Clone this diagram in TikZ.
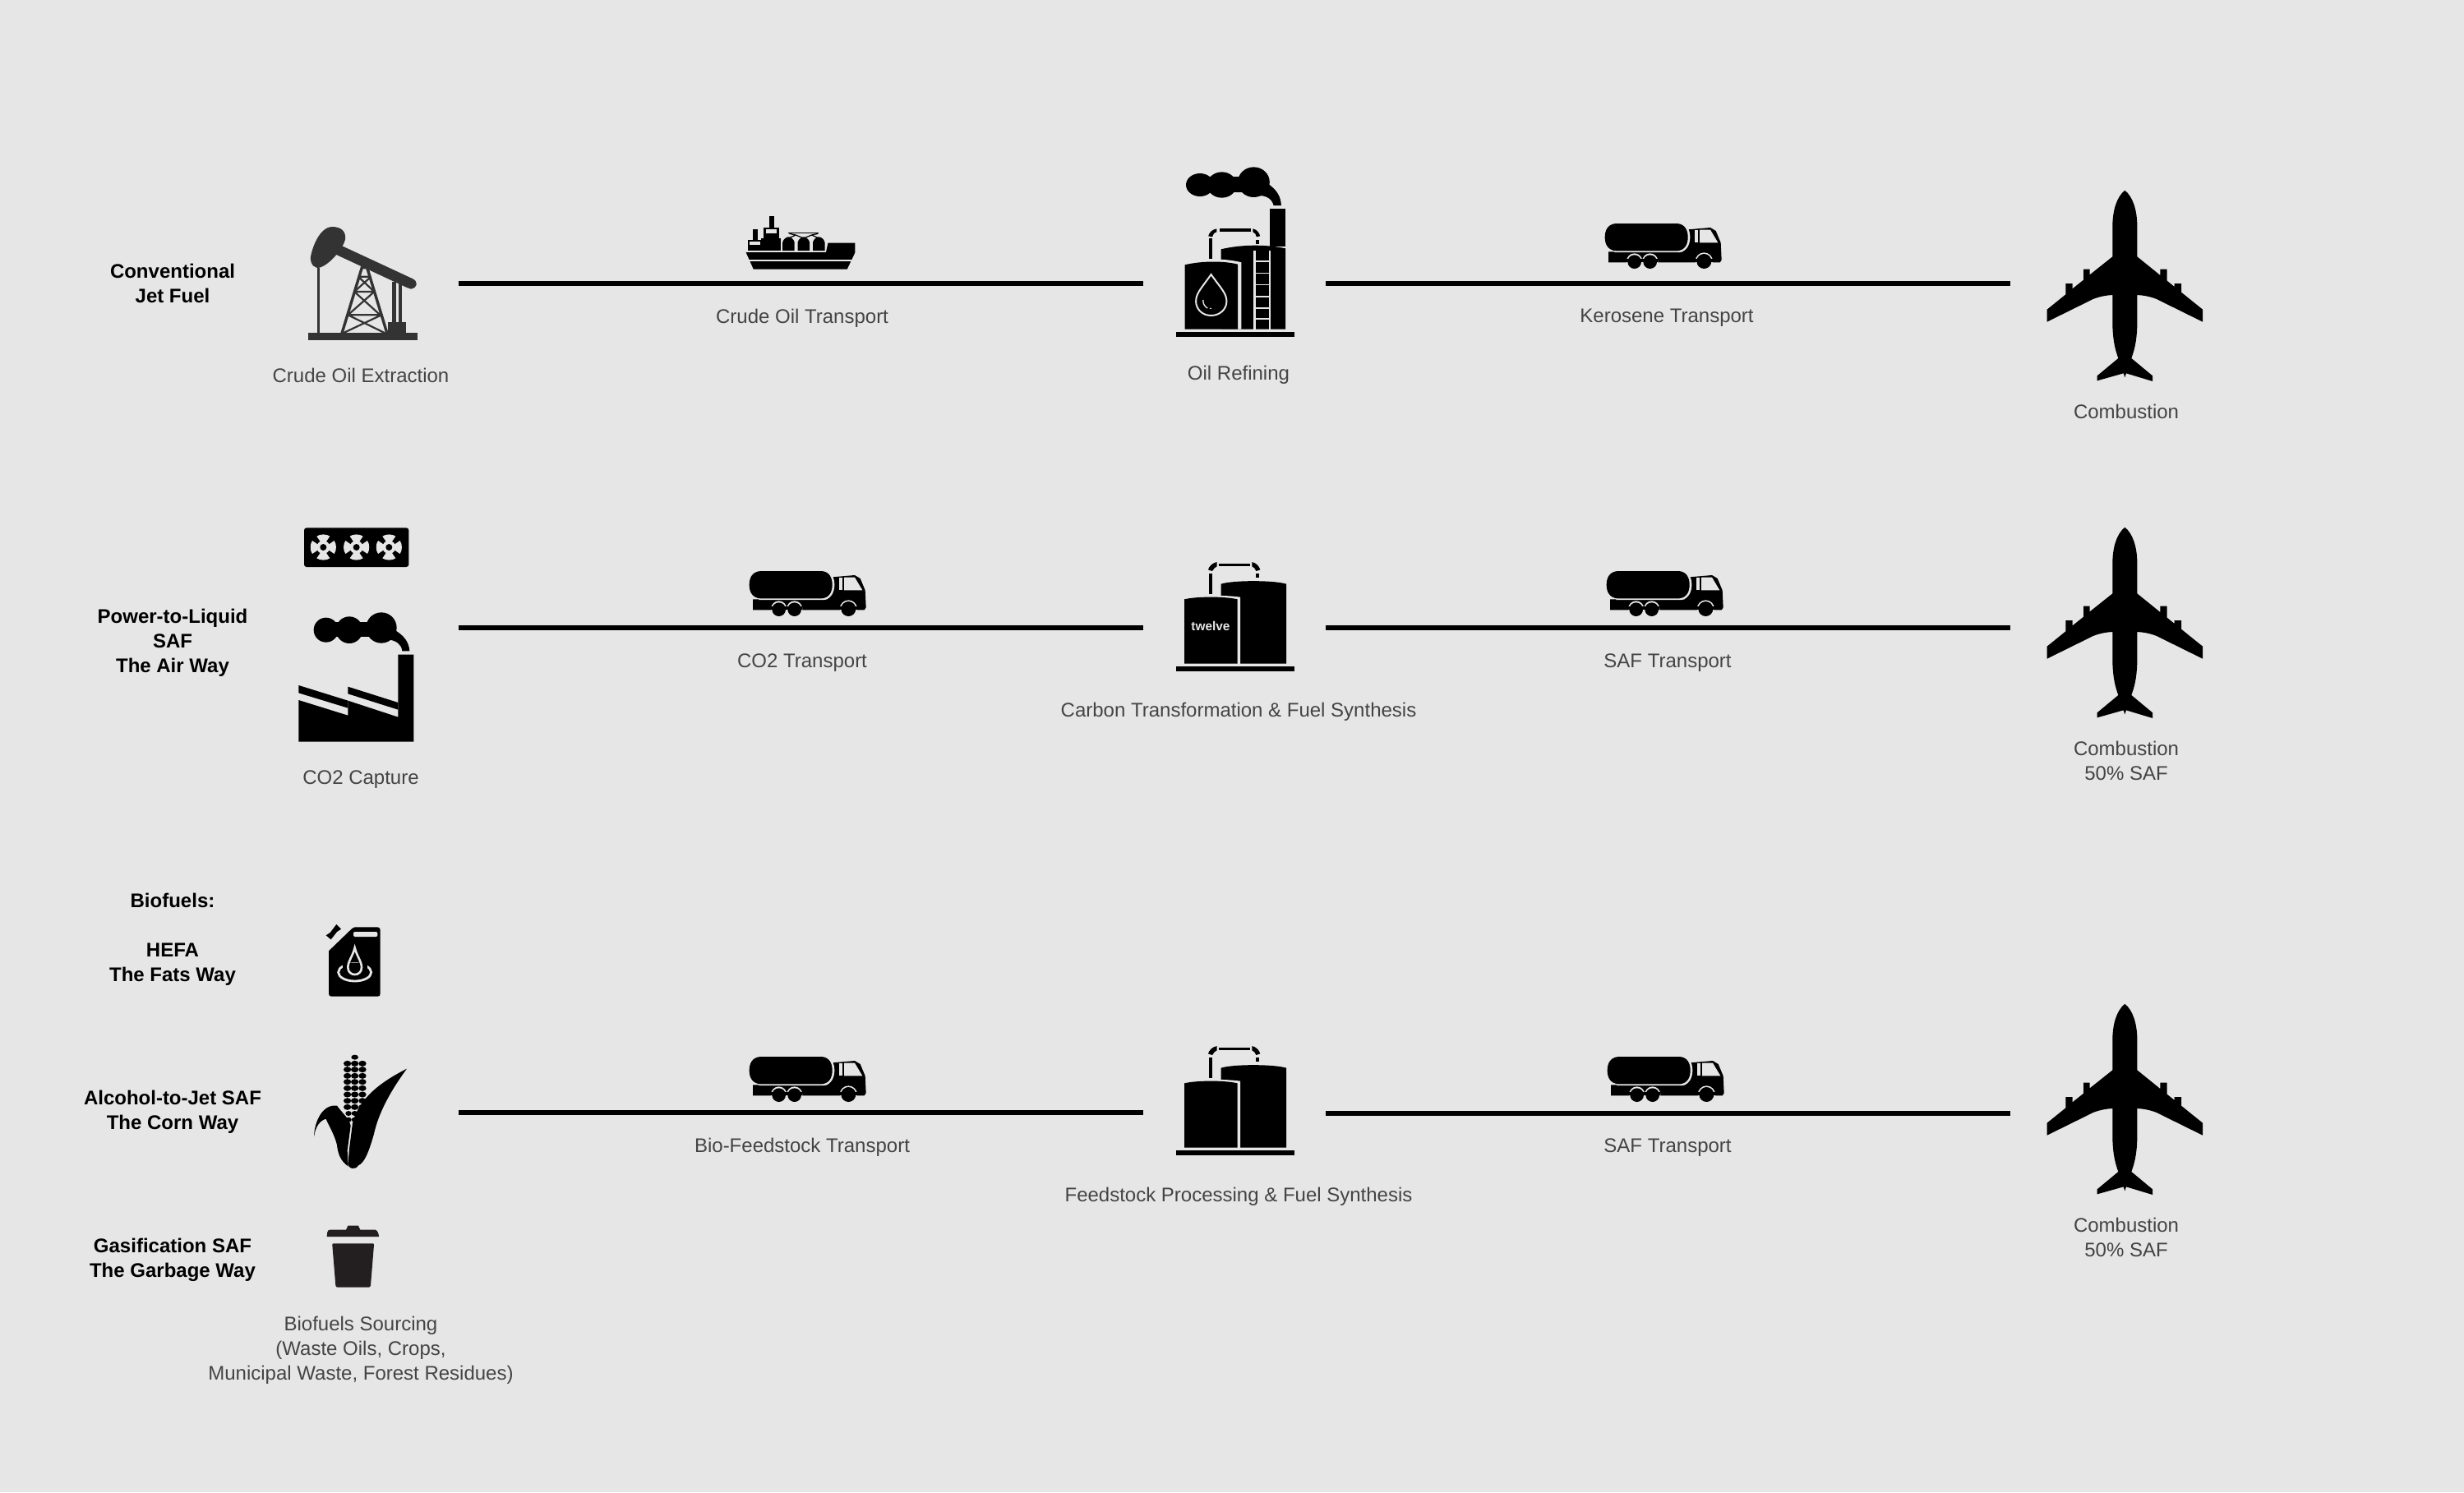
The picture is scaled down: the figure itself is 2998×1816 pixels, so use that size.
\documentclass[tikz,border=0pt]{standalone}
\usepackage{fontspec}
\setmainfont{Liberation Sans}
\definecolor{bgc}{HTML}{E6E6E6}
\definecolor{ink}{HTML}{000000}
\definecolor{jack}{HTML}{333333}
\definecolor{lab}{HTML}{444444}
\definecolor{binc}{HTML}{231F20}
\tikzset{
 lbl/.style={font=\fontsize{12}{14.9}\selectfont,text=lab,align=center,inner sep=0pt},
 head/.style={font=\fontsize{12}{14.9}\selectfont\bfseries,text=black,align=center,inner sep=0pt},
 flow/.style={draw=black,line width=3pt},
 truckicon/.pic={\begin{scope}[scale=1/3]
  \fill[ink] (48,178)--(320,178)--(338,150)--(338,97)--(420,90)--(440,102)--(458,145)--(461,208)--(455,217)--(48,217)--cycle;
  \fill[bgc] (397,213) circle[radius=32];
  \fill[bgc] (143,213) circle[radius=29];
  \fill[bgc] (200,213) circle[radius=29];
  \fill[ink] (397,213) circle[radius=27];
  \fill[ink] (143,215) circle[radius=25];
  \fill[ink] (200,215) circle[radius=25];
  \fill[ink] (115,217) rectangle (228,205);
  \fill[ink] (345,217) rectangle (372,205);
  \fill[ink] (423,217) rectangle (455,205);
  \fill[bgc] (362,98)rectangle(375,145);
  \fill[bgc] (381,98)--(420,98)--(448,145)--(381,145)--cycle;
  \fill[bgc] (70,180)--(310,180) .. controls (335,175) and (346,150) .. (346,125) .. controls (346,100) and (335,72) .. (305,70) -- (70,70)--cycle;
  \fill[ink] (75,75) -- (300,75) .. controls (328,78) and (338,100) .. (338,125) .. controls (338,150) and (328,172) .. (300,175) -- (75,175) .. controls (45,172) and (35,150) .. (35,125) .. controls (35,100) and (45,78) .. (75,75) -- cycle;
 \end{scope}},
 planeicon/.pic={\begin{scope}[scale=1/3]
  \fill[ink] (436,65) .. controls (405,90) and (392,140) .. (391,190) -- (391,307) -- (308,373) -- (308,353) -- (285,353) -- (285,392) -- (245,424) -- (245,405) -- (220,405) -- (220,445) -- (152,500) -- (152,545)
  -- (320,462) .. controls (345,452) and (370,448) .. (391,447) -- (391,560) .. controls (393,620) and (402,650) .. (412,678) -- (335,742) -- (335,760) -- (431,733) -- (436,748)
  -- (441,733) -- (537,762) -- (537,742) -- (460,678) .. controls (470,650) and (479,620) .. (481,560) -- (481,447) .. controls (502,448) and (527,452) .. (552,462) -- (720,545) -- (720,500) -- (642,437) -- (642,405) -- (617,405) -- (617,417) -- (590,395) -- (590,353) -- (565,353) -- (565,375) -- (481,307) -- (481,190) .. controls (480,140) and (467,90) .. (436,65) -- cycle;
 \end{scope}},
 tankicon/.pic={\begin{scope}[scale=1/3]
  \fill[ink] (92,452) rectangle (525,472);
  \fill[ink] (257,443) -- (257,152) .. controls (300,138) and (450,138) .. (495,152) -- (495,443) -- cycle;
  \fill[bgc] (113,450) -- (113,200) .. controls (170,192) and (270,192) .. (327,200) -- (327,450) -- cycle;
  \fill[ink] (123,443) -- (123,208) .. controls (170,197) and (270,197) .. (317,208) -- (317,443) -- cycle;
  \fill[ink] (214,115) rectangle (225,188);
  \fill[ink] (250,77) rectangle (362,88);
  \fill[ink] (384,113) rectangle (395,130);
  \fill[ink] (210,100) .. controls (213,88) and (225,75) .. (242,72) -- (242,88) .. controls (235,90) and (230,97) .. (225,105) -- cycle;
  \fill[ink] (400,100) .. controls (397,88) and (385,75) .. (370,72) -- (370,88) .. controls (377,90) and (382,97) .. (385,105) -- cycle;
 \end{scope}},
 fanicon/.pic={\begin{scope}[scale=1/3]
  \foreach \a in {0,90,180,270}{
   \fill[bgc,rotate=\a] (-9,-18) -- (-24,-40) .. controls (-12,-49) and (12,-49) .. (24,-40) -- (9,-18) -- cycle;}
  \fill[bgc] (0,0) circle[radius=24];
  \fill[ink] (0,0) circle[radius=12];
 \end{scope}}
}
\begin{document}
\begin{tikzpicture}[x=0.5pt,y=-0.5pt]
\useasboundingbox (0,0) rectangle (2998,1816);
\fill[bgc] (0,0) rectangle (2998,1816);

% connector ends
\coordinate (a1) at (558,345); \coordinate (a2) at (1391,345);
\coordinate (a3) at (1613,345); \coordinate (a4) at (2446,345);
\coordinate (b1) at (558,764); \coordinate (b2) at (1391,764);
\coordinate (b3) at (1613,764); \coordinate (b4) at (2446,764);
\coordinate (c1) at (558,1354); \coordinate (c2) at (1391,1354);
\coordinate (c3) at (1613,1355); \coordinate (c4) at (2446,1355);
\draw[flow] (a1) -- (a2); \draw[flow] (a3) -- (a4);
\draw[flow] (b1) -- (b2); \draw[flow] (b3) -- (b4);
\draw[flow] (c1) -- (c2); \draw[flow] (c3) -- (c4);

% labels
\node[head] (h1) at (210,345) {Conventional\\Jet Fuel};
\node[head] (h2) at (210,782) {Power-to-Liquid\\SAF\\The Air Way};
\node[head] (h3) at (210,1096) {Biofuels:};
\node[head] (h4) at (210,1174) {HEFA\\The Fats Way};
\node[head] (h5) at (210,1353) {Alcohol-to-Jet SAF\\The Corn Way};
\node[head] (h6) at (210,1533) {Gasification SAF\\The Garbage Way};
\node[lbl] (l1) at (439,457) {Crude Oil Extraction};
\node[lbl] (l2) at (976,387) {Crude Oil Transport};
\node[lbl] (l3) at (1507,456) {Oil Refining};
\node[lbl] (l4) at (2028,387) {Kerosene Transport};
\node[lbl] (l5) at (2587,501) {Combustion};
\node[lbl] (l6) at (439,949) {CO2 Capture};
\node[lbl] (l7) at (976,807) {CO2 Transport};
\node[lbl] (l8) at (1507,866) {Carbon Transformation \& Fuel Synthesis};
\node[lbl] (l9) at (2029,807) {SAF Transport};
\node[lbl] (l10) at (2587,926) {Combustion\\50\% SAF};
\node[lbl] (l11) at (439,1643) {Biofuels Sourcing\\(Waste Oils, Crops,\\Municipal Waste, Forest Residues)};
\node[lbl] (l12) at (976,1396) {Bio-Feedstock Transport};
\node[lbl] (l13) at (1507,1456) {Feedstock Processing \& Fuel Synthesis};
\node[lbl] (l14) at (2029,1397) {SAF Transport};
\node[lbl] (l15) at (2587,1506) {Combustion\\50\% SAF};

% planes and trucks
\pic at (2440,210) {planeicon};
\pic at (2440,620) {planeicon};
\pic at (2440,1200) {planeicon};
\pic at (1941,247) {truckicon};
\pic at (900,670) {truckicon};
\pic at (1943,670) {truckicon};
\pic at (900,1261) {truckicon};
\pic at (1944,1261) {truckicon};
\pic at (1400,660) {tankicon};
\pic at (1400,1249) {tankicon};
\node[font=\fontsize{7.7}{9}\selectfont\bfseries,text=bgc,inner sep=0pt] (tw) at (1473,762) {twelve};

% pumpjack and ship (crop coordinates)
\begin{scope}[shift={(340,180)},xscale=1/2.063,yscale=1/3]
 \fill[jack] (132,288) .. controls (155,288) and (168,305) .. (165,335) .. controls (160,365) and (130,420) .. (105,435) .. controls (88,445) and (78,425) .. (78,400) .. controls (82,365) and (100,290) .. (132,288) -- cycle;
 \fill[jack] (150,353) -- (335,478) .. controls (348,488) and (348,510) .. (330,515) -- (320,510) -- (140,388) -- cycle;
 \fill[jack] (95,437) rectangle (101,675);
 \draw[jack,line width=1.7pt] (157,676) -- (207,437) -- (220,437) -- (270,676);
 \draw[jack,line width=1.1pt] (198,470)--(230,470) (188,525)--(238,525) (198,470)--(238,525) (230,470)--(188,525) (188,525)--(253,610) (238,525)--(172,610) (172,610)--(256,610) (172,610)--(265,676) (256,610)--(160,676);
 \fill[jack] (283,490) rectangle (293,640);
 \fill[jack] (299,495) rectangle (307,640);
 \fill[jack] (272,636) rectangle (317,680);
 \fill[jack] (73,674) rectangle (347,703);

 \fill[ink] (1171,381) -- (1372,381) -- (1377,347) -- (1445,347) -- (1445,382) -- (1425,443) -- (1190,443) -- cycle;
 \fill[bgc] (1178,408) rectangle (1436,414);
 \fill[ink] (1175,335) rectangle (1210,375);
 \fill[ink] (1188,298) rectangle (1201,336);
 \fill[ink] (1215,290) rectangle (1255,375);
 \fill[ink] (1229,250) rectangle (1241,291);
 \fill[ink] (1210,330) rectangle (1258,375);
 \fill[bgc] (1180,342) rectangle (1207,355);
 \fill[bgc] (1222,298) rectangle (1248,312);
 \foreach \c in {1278,1316,1354}{
  \fill[ink] (\c-15,375) -- (\c-15,345) .. controls (\c-13,332) and (\c-5,325) .. (\c,325) .. controls (\c+5,325) and (\c+13,332) .. (\c+15,345) -- (\c+15,375) -- cycle;}
 \fill[ink] (1278,308) rectangle (1354,313);
 \draw[ink,line width=.6pt] (1280,313)--(1296,318)--(1316,330)--(1336,318)--(1352,313)  (1296,318)--(1278,330) (1336,318)--(1354,330);
\end{scope}

% refinery
\begin{scope}[shift={(1380,180)},xscale=1/2.063,yscale=1/3]
 \fill[ink] (165,135) ellipse[x radius=35,y radius=42];
 \fill[ink] (220,135) ellipse[x radius=37,y radius=47];
 \fill[ink] (300,125) ellipse[x radius=40,y radius=55];
 \fill[ink] (165,105) rectangle (300,162);
 \fill[ink] (335,130) .. controls (360,155) and (368,180) .. (369,210) -- (350,210) .. controls (345,180) and (325,170) .. (300,175) -- cycle;
 \fill[ink] (340,222) rectangle (380,360);
 \fill[ink] (218,662) -- (218,370) .. controls (270,352) and (330,352) .. (380,367) -- (380,662) -- cycle;
 \fill[bgc] (300,376) rectangle (305,662);
 \fill[bgc] (338,376) rectangle (343,662);
 \foreach \y in {412,455,497,540,582,622}{\fill[bgc] (300,\y) rectangle (343,\y+5);}
 \fill[bgc] (115,662) -- (115,420) .. controls (170,402) and (225,402) .. (269,418) -- (269,662) -- cycle;
 \fill[ink] (127,662) -- (127,427) .. controls (170,412) and (225,412) .. (260,425) -- (260,662) -- cycle;
 \draw[bgc,line width=1pt] (193,462) .. controls (170,510) and (155,530) .. (155,560) .. controls (155,590) and (172,612) .. (193,612) .. controls (214,612) and (232,590) .. (232,560) .. controls (232,530) and (216,510) .. (193,462) -- cycle;
 \draw[bgc,line width=.7pt] (173,555) .. controls (172,570) and (178,580) .. (184,585);
 \fill[bgc] (192,586) circle[radius=2.5];
 \fill[ink] (105,672) rectangle (402,690);
 \fill[ink] (188,330) rectangle (196,405);
 \fill[ink] (215,295) rectangle (292,305);
 \fill[ink] (305,335) rectangle (313,350);
 \fill[ink] (186,322) .. controls (188,310) and (195,298) .. (207,295) -- (207,307) .. controls (200,310) and (198,315) .. (196,325) -- cycle;
 \fill[ink] (316,322) .. controls (314,310) and (308,298) .. (298,295) -- (298,307) .. controls (304,310) and (305,315) .. (307,325) -- cycle;
\end{scope}

% fans and factory
\begin{scope}[shift={(340,620)},scale=1/3]
 \fill[ink,rounded corners=1.5pt] (90,67) rectangle (472,210);
 \pic at (160,138) {fanicon};
 \pic at (281,138) {fanicon};
 \pic at (400,138) {fanicon};
\end{scope}
\begin{scope}[shift={(340,620)},scale=1/3]
 \fill[ink] (170,440) circle[radius=45];
 \fill[ink] (255,440) circle[radius=49];
 \fill[ink] (372,432) circle[radius=56];
 \fill[ink] (170,411) rectangle (372,466);
 \fill[ink] (420,440) .. controls (455,460) and (473,485) .. (475,517) -- (448,517) .. controls (445,490) and (425,480) .. (400,475) -- cycle;
 \fill[ink] (70,848) -- (70,696) -- (250,752) -- (250,698) -- (433,758) -- (433,530) -- (490,530) -- (490,848) -- cycle;
 \fill[ink] (70,642) -- (250,698) -- (250,725) -- (70,670) -- cycle;
 \fill[ink] (250,647) -- (433,705) -- (433,731) -- (250,673) -- cycle;
\end{scope}

% jerry can and corn
\begin{scope}[shift={(360,1100)},scale=1/3]
 \fill[ink] (205,90) .. controls (208,86) and (210,85) .. (215,85) -- (298,85) .. controls (305,85) and (308,90) .. (308,96) -- (308,328) .. controls (308,335) and (305,338) .. (298,338) -- (130,338) .. controls (124,338) and (120,335) .. (120,328) -- (120,172) -- cycle;
 \fill[ink] (110,115) -- (125,105) -- (148,75) -- (165,92) -- (150,102) -- (128,130) -- cycle;
 \fill[bgc,rounded corners=1pt] (210,102) rectangle (298,120);
 \draw[bgc,line width=1.4pt] (215,250) ellipse[x radius=60,y radius=32];
 \fill[ink] (170,215) rectangle (260,250);
 \draw[bgc,line width=1.3pt] (215,160) .. controls (208,190) and (190,210) .. (190,232) .. controls (190,250) and (203,258) .. (215,258) .. controls (227,258) and (240,250) .. (240,232) .. controls (240,210) and (222,190) .. (215,160) -- cycle;
 % corn kernels
 \foreach \y in {583,605,628,650,673,696,719,742}{
  \fill[ink] (188,\y) ellipse[x radius=14,y radius=10.5];
  \fill[ink] (215,\y) ellipse[x radius=14,y radius=10.5];
  \fill[ink] (243,\y) ellipse[x radius=14,y radius=10.5];}
 \fill[ink] (215,560) ellipse[x radius=13,y radius=9];
 \foreach \y in {765,788}{
  \fill[ink] (192,\y) ellipse[x radius=11,y radius=9];
  \fill[ink] (215,\y) ellipse[x radius=12,y radius=9];}
 \fill[ink] (405,602) .. controls (310,650) and (230,710) .. (207,800) -- (195,895) -- (190,950) .. controls (190,965) and (215,975) .. (228,955) .. controls (250,945) and (265,910) .. (285,840) .. controls (300,770) and (340,690) .. (405,602) -- cycle;
 \fill[ink] (66,850) .. controls (68,790) and (100,730) .. (150,737) .. controls (175,770) and (195,785) .. (200,810) -- (188,900) -- (190,950) -- (190,958) .. controls (175,945) and (155,930) .. (150,880) .. controls (140,840) and (120,810) .. (110,785) .. controls (90,790) and (72,810) .. (66,850) -- cycle;
\end{scope}

% bin
\begin{scope}[shift={(360,1470)},scale=1/3]
 \fill[binc] (113,105) -- (115,88) .. controls (117,82) and (120,80) .. (125,80) -- (183,80) -- (190,65) -- (228,65) -- (235,80) -- (290,80) .. controls (298,82) and (303,95) .. (303,105) -- cycle;
 \fill[binc] (137,130) -- (281,130) .. controls (285,130) and (285,133) .. (285,136) -- (273,283) .. controls (272,288) and (270,290) .. (265,290) -- (153,290) .. controls (148,290) and (146,288) .. (145,283) -- (133,136) .. controls (133,133) and (133,130) .. (137,130) -- cycle;
\end{scope}
\end{tikzpicture}
\end{document}
